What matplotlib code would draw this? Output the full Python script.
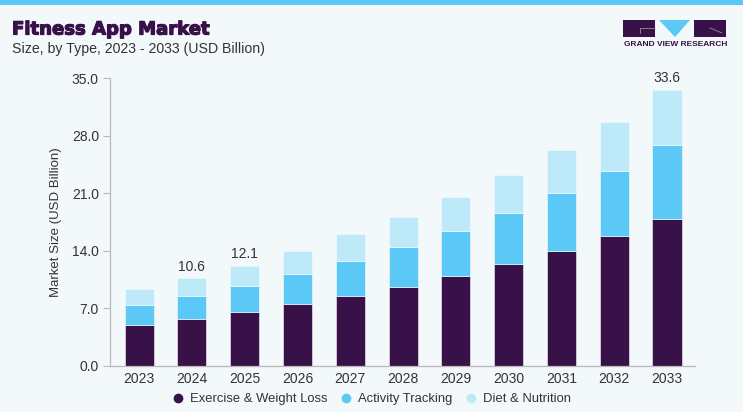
import matplotlib
matplotlib.use("Agg")
import matplotlib.pyplot as plt
from matplotlib.patches import Rectangle, Polygon
from matplotlib.lines import Line2D
import matplotlib.patheffects as pe
import numpy as np

years = ["2023", "2024", "2025", "2026", "2027", "2028", "2029", "2030", "2031", "2032", "2033"]
exercise = [4.97, 5.70, 6.52, 7.45, 8.50, 9.56, 10.90, 12.36, 13.95, 15.81, 17.84]
activity = [2.40, 2.73, 3.16, 3.66, 4.26, 4.87, 5.48, 6.18, 7.02, 7.92, 9.02]
diet = [1.91, 2.19, 2.44, 2.84, 3.26, 3.66, 4.14, 4.66, 5.28, 5.93, 6.70]
series_names = ["Exercise & Weight Loss", "Activity Tracking", "Diet & Nutrition"]
labeled = {"2024": "10.6", "2025": "12.1", "2033": "33.6"}
yticks = [0.0, 7.0, 14.0, 21.0, 28.0, 35.0]

W, H = 743, 412
BG = "#F3F8FB"
DARK = "#371148"
MID = "#5BC8F5"
LIGHT = "#BDE9F9"
TXT = "#333333"

plt.rcParams['font.family'] = ['Liberation Sans', 'DejaVu Sans']

fig = plt.figure(figsize=(W / 100, H / 100), dpi=100, facecolor=BG)

def fx(x):
    return x / W

def fy(y):
    return 1 - y / H

# top stripe
fig.patches.append(Rectangle((0, fy(5)), 1, 5 / H, transform=fig.transFigure,
                             facecolor=MID, edgecolor='none'))

ax = fig.add_axes([fx(110), fy(365.5), fx(695) - fx(110), fy(78) - fy(365.5)])
ax.set_facecolor(BG)

x = np.arange(len(years))
bw = 0.55
ex = np.array(exercise)
ac = np.array(activity)
di = np.array(diet)
ax.bar(x, ex, bw, color=DARK, edgecolor='#e6e0ea', linewidth=0.5, label=series_names[0])
ax.bar(x, ac, bw, bottom=ex, color=MID, edgecolor='#e6f6fd', linewidth=0.5, label=series_names[1])
ax.bar(x, di, bw, bottom=ex + ac, color=LIGHT, edgecolor='#eef9fe', linewidth=0.5, label=series_names[2])

tot = ex + ac + di
for i, yr in enumerate(years):
    if yr in labeled:
        ax.text(i, tot[i] + 0.55, labeled[yr], ha='center', va='bottom', fontsize=10, color=TXT)

ax.set_xlim(-0.55, 10.53)
ax.set_ylim(0, 35)
ax.set_yticks(yticks)
ax.set_yticklabels([f"{v:.1f}" for v in yticks])
ax.set_xticks(x)
ax.set_xticklabels(years)
ax.tick_params(axis='y', length=5, width=0.8, color='#b8b8b8', labelsize=10, labelcolor=TXT, pad=3)
ax.tick_params(axis='x', length=0, labelsize=10, labelcolor=TXT, pad=5)
for s in ['top', 'right']:
    ax.spines[s].set_visible(False)
for s in ['left', 'bottom']:
    ax.spines[s].set_color('#b8b8b8')
    ax.spines[s].set_linewidth(0.9)
ax.set_ylabel("Market Size (USD Billion)", fontsize=9.5, color=TXT, labelpad=7)

# titles
fig.text(fx(12), fy(34.5), "Fitness App Market", fontsize=13, fontweight='bold', color=DARK,
         va='baseline', ha='left', family=['DejaVu Sans'],
         path_effects=[pe.withStroke(linewidth=0.9, foreground=DARK)])
fig.text(fx(12), fy(53), "Size, by Type, 2023 - 2033 (USD Billion)", fontsize=10.2, color=TXT,
         va='baseline', ha='left')

# logo
fig.patches.append(Rectangle((fx(623), fy(37)), fx(655) - fx(623), 17 / H,
                             transform=fig.transFigure, facecolor=DARK, edgecolor='none'))
fig.patches.append(Rectangle((fx(694), fy(37)), fx(726) - fx(694), 17 / H,
                             transform=fig.transFigure, facecolor=DARK, edgecolor='none'))
fig.patches.append(Polygon([(fx(659), fy(20)), (fx(690), fy(20)), (fx(675), fy(37))],
                           closed=True, transform=fig.transFigure, facecolor=MID, edgecolor='none'))
fig.lines.append(Line2D([fx(640), fx(655)], [fy(28), fy(28)], transform=fig.transFigure,
                        color='#9a8aa6', lw=0.6))
fig.lines.append(Line2D([fx(640), fx(640)], [fy(28), fy(33)], transform=fig.transFigure,
                        color='#9a8aa6', lw=0.6))
fig.lines.append(Line2D([fx(710), fx(722)], [fy(28), fy(33)], transform=fig.transFigure,
                        color='#9a8aa6', lw=0.6))
fig.text(fx(675.5), fy(45), "GRAND VIEW RESEARCH", fontsize=6.0, fontweight='bold', color=DARK,
         ha='center', va='center')

# legend
handles = [Line2D([], [], marker='o', linestyle='none', markersize=7, markerfacecolor=c,
                  markeredgecolor='none') for c in [DARK, MID, LIGHT]]
fig.legend(handles, series_names, loc='center', bbox_to_anchor=(fx(372), fy(399)),
           ncol=3, frameon=False, fontsize=9.4, labelcolor=TXT, handletextpad=0.55,
           columnspacing=1.0, handlelength=0.8)

fig.savefig("out.png", dpi=100, facecolor=BG)
